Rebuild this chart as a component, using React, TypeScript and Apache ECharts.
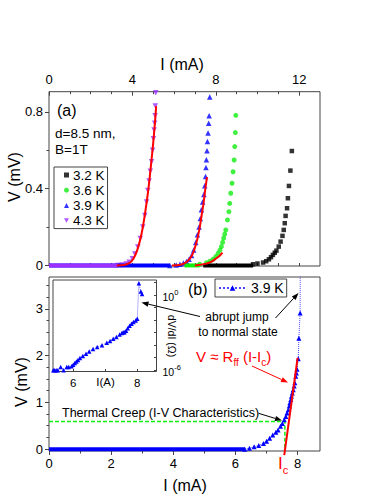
import React, { useEffect, useRef } from 'react';
import * as echarts from 'echarts';

const FONT = '"Liberation Sans", Arial, Helvetica, sans-serif';

// ---------- Panel (a): I (mA) vs V (mV), B = 1 T ----------
const I_32K = [9.79, 10.0, 10.27, 10.42, 10.55, 10.65, 10.74, 10.83, 10.91, 11.02, 11.11, 11.2, 11.26, 11.31, 11.35, 11.42, 11.46, 11.51, 11.58, 11.65];
const V_32K = [0.006, 0.01, 0.015, 0.022, 0.032, 0.043, 0.055, 0.066, 0.077, 0.098, 0.124, 0.154, 0.185, 0.22, 0.258, 0.298, 0.35, 0.414, 0.494, 0.596];
const FLAT_32K = [7.4, 9.79];

const I_36K = [7.23, 7.55, 7.72, 7.87, 8.0, 8.11, 8.2, 8.27, 8.33, 8.38, 8.43, 8.48, 8.56, 8.63, 8.67, 8.72, 8.78, 8.83, 8.88, 8.91, 8.94, 8.96];
const V_36K = [0.006, 0.014, 0.022, 0.032, 0.046, 0.063, 0.08, 0.098, 0.12, 0.142, 0.163, 0.185, 0.237, 0.28, 0.323, 0.376, 0.428, 0.488, 0.549, 0.619, 0.692, 0.782];
const FLAT_36K = [6.5, 7.23];

const I_39K = [5.8, 6.1, 6.28, 6.45, 6.6, 6.72, 6.84, 6.94, 7.04, 7.12, 7.2, 7.26, 7.31, 7.37, 7.43, 7.47, 7.51, 7.53, 7.55, 7.58, 7.6, 7.63, 7.66, 7.68, 7.71];
const V_39K = [0, 0.002, 0.006, 0.012, 0.02, 0.032, 0.052, 0.08, 0.12, 0.16, 0.2, 0.245, 0.29, 0.33, 0.37, 0.415, 0.463, 0.51, 0.55, 0.598, 0.645, 0.69, 0.74, 0.78, 0.877];
const FLAT_39K = [0, 5.8];

const I_43K = [3.3, 3.5, 3.7, 3.85, 4.0, 4.12, 4.26, 4.38, 4.5, 4.6, 4.68, 4.74, 4.8, 4.86, 4.92, 4.97, 5.01, 5.04, 5.07, 5.09, 5.1, 5.12];
const V_43K = [0, 0.002, 0.008, 0.016, 0.035, 0.06, 0.096, 0.14, 0.2, 0.26, 0.33, 0.39, 0.44, 0.49, 0.54, 0.6, 0.66, 0.705, 0.74, 0.78, 0.83, 0.9];
const FLAT_43K = [0, 3.3];

const FIT43_I = [3.25, 3.6, 3.85, 4.05, 4.25, 4.45, 4.62, 4.77, 4.9, 5.0, 5.08, 5.14];
const FIT43_V = [0, 0.002, 0.012, 0.035, 0.085, 0.17, 0.28, 0.4, 0.53, 0.64, 0.74, 0.83];
const FIT39_I = [5.9, 6.3, 6.6, 6.85, 7.05, 7.2, 7.32, 7.42, 7.5, 7.58];
const FIT39_V = [0, 0.004, 0.018, 0.05, 0.11, 0.18, 0.26, 0.33, 0.4, 0.46];
const FIT36_I = [7.0, 7.5, 7.8, 8.0, 8.2, 8.32];
const FIT36_V = [0, 0.008, 0.02, 0.035, 0.052, 0.067];

const TOP_X_LABELS = [0, 4, 8, 12];
const TOP_X_MINOR = [1, 2, 3, 5, 6, 7, 9, 10, 11];
const TOP_X_ALL = [0, 1, 2, 3, 4, 5, 6, 7, 8, 9, 10, 11, 12];
const TOP_Y_LABELS = [0, 0.4, 0.8];
const TOP_Y_MINOR = [0.2, 0.6];

// ---------- Panel (b): 3.9 K ----------
const B_I = [6.3, 6.45, 6.6, 6.75, 6.9, 7.0, 7.1, 7.2, 7.3, 7.37, 7.45, 7.51, 7.57, 7.62, 7.66, 7.7, 7.73, 7.75, 7.78, 7.8, 7.83, 7.86, 7.89, 7.91, 7.94, 7.96, 7.98, 8.02, 8.04, 8.08, 8.09];
const B_V = [0, 0.02, 0.05, 0.08, 0.12, 0.17, 0.23, 0.3, 0.36, 0.41, 0.49, 0.55, 0.63, 0.7, 0.77, 0.84, 0.92, 0.99, 1.06, 1.13, 1.2, 1.27, 1.35, 1.42, 1.56, 1.63, 1.71, 1.93, 2.37, 2.91, 5.0];
const B_FLAT = [0, 6.3];
const CREEP_I = [0, 7.59, 7.59];
const CREEP_V = [0.59, 0.59, 0];
const FF_I = [7.57, 8.0];
const FF_V = [-0.13, 1.95];

const BOT_X_LABELS = [0, 2, 4, 6, 8];
const BOT_X_MINOR = [1, 3, 5, 7];
const BOT_Y_LABELS = [0, 1, 2, 3];
const BOT_Y_MINOR = [0.25, 0.5, 0.75, 1.25, 1.5, 1.75, 2.25, 2.5, 2.75, 3.25, 3.5];

// ---------- Inset: dV/dI (Ω) vs I (A) ----------
const IN_I = [5.38, 5.42, 5.47, 5.52, 5.61, 5.7, 5.8, 5.86, 5.95, 6.0, 6.05, 6.1, 6.15, 6.21, 6.3, 6.4, 6.5, 6.62, 6.75, 6.9, 7.05, 7.15, 7.25, 7.35, 7.45, 7.52, 7.56, 7.6, 7.65, 7.7, 7.76, 7.82, 7.88, 7.95, 8.0, 8.05, 8.11, 8.15];
const IN_DVDI = [1.0e-6, 1.0e-6, 1.0e-6, 1.0e-6, 1.8e-6, 1.0e-6, 1.8e-6, 1.8e-6, 2.1e-6, 2.8e-6, 3.8e-6, 5.0e-6, 6.6e-6, 9.3e-6, 1.4e-5, 2.1e-5, 3.2e-5, 5.0e-5, 7.1e-5, 1.0e-4, 1.55e-4, 2.2e-4, 3.2e-4, 4.5e-4, 7.1e-4, 9.5e-4, 1.1e-3, 1.1e-3, 1.4e-3, 2.2e-3, 3.5e-3, 5.2e-3, 7.1e-3, 9.5e-3, 1.3e-2, 8.7, 1.9, 1.2];
const IN_X_LABELS = [6, 8];
const IN_X_TICKS = [6, 7, 8];
const IN_Y_LABEL_EXP = [0, -6];
const IN_Y_TICK_EXP = [-6, -5, -4, -3, -2, -1, 0, 1];

const zip = (xs: number[], ys: number[]) => xs.map((x, i) => [x, ys[i]]);
const flat = (r: number[]) => [[r[0], 0], [r[1], 0]];

const AX = '#444';
const PURPLE = '#9B30FF';
const GREEN = '#11EE11';
const BLUE = '#0000FF';
const RED = '#FF0000';

function arrow(x1: number, y1: number, x2: number, y2: number, color: string) {
  const dx = x2 - x1, dy = y2 - y1;
  const L = Math.hypot(dx, dy);
  const ux = dx / L, uy = dy / L;
  const head = 7, w = 2.6;
  const bx = x2 - ux * head, by = y2 - uy * head;
  return [
    { type: 'line', silent: true, shape: { x1, y1, x2: bx, y2: by }, style: { stroke: color, lineWidth: 1 } },
    { type: 'polygon', silent: true, shape: { points: [[x2, y2], [bx - uy * w, by + ux * w], [bx + uy * w, by - ux * w]] }, style: { fill: color } },
  ];
}

const label = (customValues: number[], extra: any = {}) => ({
  customValues, fontSize: 13, color: '#000', fontFamily: FONT, formatter: (v: number) => String(v), ...extra,
});
const tick = (customValues: number[], inside: boolean, length: number) => ({
  show: true, customValues, inside, length, lineStyle: { color: AX, width: 1 },
});
const noLine = { show: false, onZero: false };
const noSplit = { show: false };

export default function App() {
  const ref = useRef<HTMLDivElement>(null);
  useEffect(() => {
    if (!ref.current) return;
    const chart = echarts.init(ref.current, undefined, { renderer: 'svg' });

    const gA = { left: 49, top: 91.7, width: 271, height: 174.3 };
    const gB = { left: 49, top: 277, width: 271, height: 174 };
    const gI = { left: 53, top: 280, width: 103.5, height: 91.5 };

    const option: any = {
      animation: false,
      backgroundColor: '#fff',
      textStyle: { fontFamily: FONT },
      grid: [
        { ...gA, show: true, borderColor: AX, borderWidth: 1, outerBoundsMode: 'none' },
        { ...gB, show: true, borderColor: AX, borderWidth: 1, outerBoundsMode: 'none' },
        { ...gI, show: true, borderColor: AX, borderWidth: 1, backgroundColor: '#fff', outerBoundsMode: 'none' },
        { ...gA, show: false, outerBoundsMode: 'none' },
        { ...gB, show: false, outerBoundsMode: 'none' },
      ],
      xAxis: [
        { type: 'value', gridIndex: 0, position: 'top', min: 0, max: 13, axisLine: noLine, splitLine: noSplit,
          axisTick: tick(TOP_X_LABELS, true, 4), axisLabel: label(TOP_X_LABELS, { margin: 6 }) },
        { type: 'value', gridIndex: 3, position: 'top', min: 0, max: 13, axisLine: noLine, splitLine: noSplit,
          axisTick: tick(TOP_X_MINOR, true, 2.5), axisLabel: { show: false } },
        { type: 'value', gridIndex: 3, position: 'bottom', min: 0, max: 13, axisLine: noLine, splitLine: noSplit,
          axisTick: tick(TOP_X_ALL, true, 3), axisLabel: { show: false } },
        { type: 'value', gridIndex: 1, position: 'bottom', min: 0, max: 8.72, axisLine: noLine, splitLine: noSplit,
          axisTick: tick(BOT_X_LABELS, false, 4), axisLabel: label(BOT_X_LABELS, { margin: 6 }) },
        { type: 'value', gridIndex: 4, position: 'bottom', min: 0, max: 8.72, axisLine: noLine, splitLine: noSplit,
          axisTick: tick(BOT_X_MINOR, false, 2.5), axisLabel: { show: false } },
        { type: 'value', gridIndex: 2, position: 'bottom', min: 5.37, max: 8.6, axisLine: noLine, splitLine: noSplit,
          axisTick: tick(IN_X_TICKS, true, 2.5), axisLabel: label(IN_X_LABELS, { fontSize: 11.5, margin: 5 }) },
      ],
      yAxis: [
        { type: 'value', gridIndex: 0, position: 'left', min: -0.003, max: 0.905, axisLine: noLine, splitLine: noSplit,
          axisTick: tick(TOP_Y_LABELS, false, 4), axisLabel: label(TOP_Y_LABELS, { margin: 6 }) },
        { type: 'value', gridIndex: 3, position: 'left', min: -0.003, max: 0.905, axisLine: noLine, splitLine: noSplit,
          axisTick: tick(TOP_Y_MINOR, false, 2.5), axisLabel: { show: false } },
        { type: 'value', gridIndex: 1, position: 'left', min: -0.04, max: 3.68, axisLine: noLine, splitLine: noSplit,
          axisTick: tick(BOT_Y_LABELS, false, 4), axisLabel: label(BOT_Y_LABELS, { margin: 6 }) },
        { type: 'value', gridIndex: 4, position: 'left', min: -0.04, max: 3.68, axisLine: noLine, splitLine: noSplit,
          axisTick: tick(BOT_Y_MINOR, false, 2.5), axisLabel: { show: false } },
        { type: 'value', gridIndex: 2, position: 'right', min: -6.1, max: 1.2, axisLine: noLine, splitLine: noSplit,
          axisTick: tick(IN_Y_TICK_EXP, true, 2.5),
          axisLabel: {
            customValues: IN_Y_LABEL_EXP, margin: 6, color: '#000', fontFamily: FONT,
            formatter: (v: number) => `{b|10}{s|${v}}`,
            rich: {
              b: { fontSize: 10.5, lineHeight: 14, verticalAlign: 'bottom', fontFamily: FONT, color: '#000' },
              s: { fontSize: 7.5, lineHeight: 8, verticalAlign: 'top', fontFamily: FONT, color: '#000' },
            },
          } },
      ],
      legend: [
        { show: true, orient: 'vertical', left: 54, top: 167, selectedMode: false,
          data: [
            { name: '3.2 K' },
            { name: '3.6 K' },
            { name: '3.9 K' },
            { name: '4.3 K', icon: 'path://M0,0 L10,0 L5,9 Z' },
          ],
          itemWidth: 5, itemHeight: 5, itemGap: 1.2, padding: [1, 3, 1, 10],
          borderColor: AX, borderWidth: 1,
          textStyle: { fontSize: 13.5, lineHeight: 13, fontFamily: FONT, color: '#000', padding: [0, 0, 0, -1] } },
        { show: true, orient: 'horizontal', left: 215, top: 279, selectedMode: false,
          data: ['3.9 K (b)'], formatter: () => '3.9 K',
          itemWidth: 27, itemHeight: 7, padding: [2, 3, 2, 3],
          borderColor: AX, borderWidth: 1,
          textStyle: { fontSize: 14, fontFamily: FONT, color: '#000' } },
      ],
      series: [
        // flat V=0 bands (dense markers)
        { type: 'line', name: 'flat32', xAxisIndex: 0, yAxisIndex: 0, data: flat(FLAT_32K), symbol: 'none', clip: false, silent: true, lineStyle: { color: '#000', width: 4 } },
        { type: 'line', name: 'flat36', xAxisIndex: 0, yAxisIndex: 0, data: flat(FLAT_36K), symbol: 'none', clip: false, silent: true, lineStyle: { color: GREEN, width: 4 } },
        { type: 'line', name: 'flat39', xAxisIndex: 0, yAxisIndex: 0, data: flat(FLAT_39K), symbol: 'none', clip: false, silent: true, lineStyle: { color: BLUE, width: 4 } },
        { type: 'line', name: 'flat43', xAxisIndex: 0, yAxisIndex: 0, data: flat(FLAT_43K), symbol: 'none', clip: false, silent: true, lineStyle: { color: PURPLE, width: 4 } },
        // data markers
        { type: 'scatter', name: '3.2 K', xAxisIndex: 0, yAxisIndex: 0, data: zip(I_32K, V_32K), symbol: 'rect', symbolSize: 4.5, clip: false, itemStyle: { color: '#000' } },
        { type: 'scatter', name: '3.6 K', xAxisIndex: 0, yAxisIndex: 0, data: zip(I_36K, V_36K), symbol: 'circle', symbolSize: 5, clip: false, itemStyle: { color: GREEN } },
        { type: 'scatter', name: '3.9 K', xAxisIndex: 0, yAxisIndex: 0, data: zip(I_39K, V_39K), symbol: 'triangle', symbolSize: 5.5, clip: false, itemStyle: { color: BLUE } },
        { type: 'scatter', name: '4.3 K', xAxisIndex: 0, yAxisIndex: 0, data: zip(I_43K, V_43K), symbol: 'triangle', symbolRotate: 180, symbolSize: 5.5, clip: false, itemStyle: { color: PURPLE } },
        // red fits
        { type: 'line', name: 'fit43', xAxisIndex: 0, yAxisIndex: 0, data: zip(FIT43_I, FIT43_V), smooth: 0.3, symbol: 'none', clip: false, silent: true, z: 5, lineStyle: { color: RED, width: 2 } },
        { type: 'line', name: 'fit39', xAxisIndex: 0, yAxisIndex: 0, data: zip(FIT39_I, FIT39_V), smooth: 0.3, symbol: 'none', clip: false, silent: true, z: 5, lineStyle: { color: RED, width: 2 } },
        { type: 'line', name: 'fit36', xAxisIndex: 0, yAxisIndex: 0, data: zip(FIT36_I, FIT36_V), smooth: 0.3, symbol: 'none', clip: false, silent: true, z: 5, lineStyle: { color: RED, width: 2 } },

        // panel (b)
        { type: 'line', name: 'creep', xAxisIndex: 3, yAxisIndex: 2, data: zip(CREEP_I, CREEP_V), symbol: 'none', silent: true, lineStyle: { color: GREEN, width: 1.5, type: [4, 2] } },
        { type: 'line', name: 'bflat', xAxisIndex: 3, yAxisIndex: 2, data: flat(B_FLAT), symbol: 'none', clip: false, silent: true, lineStyle: { color: BLUE, width: 4 } },
        { type: 'line', name: '3.9 K (b)', xAxisIndex: 3, yAxisIndex: 2, data: zip(B_I, B_V), symbol: 'triangle', symbolSize: 5, showSymbol: true,
          itemStyle: { color: BLUE }, lineStyle: { color: '#4a4aff', width: 1, type: 'dotted' } },
        { type: 'line', name: 'ff', xAxisIndex: 3, yAxisIndex: 2, data: zip(FF_I, FF_V), symbol: 'none', clip: false, silent: true, z: 5, lineStyle: { color: RED, width: 2 } },

        // inset
        { type: 'line', name: 'inset', xAxisIndex: 5, yAxisIndex: 4, data: IN_I.map((x, i) => [x, Math.log10(IN_DVDI[i])]),
          symbol: 'triangle', symbolSize: 4.5, z: 6, itemStyle: { color: BLUE }, lineStyle: { color: '#6a6aff', width: 1, type: 'dotted' } },
      ],
      graphic: [
        { type: 'text', x: 182, y: 64, silent: true, style: { text: 'I (mA)', fontSize: 16, fontFamily: FONT, fill: '#000', align: 'center', verticalAlign: 'middle' } },
        { type: 'text', x: 185, y: 485, silent: true, style: { text: 'I (mA)', fontSize: 16, fontFamily: FONT, fill: '#000', align: 'center', verticalAlign: 'middle' } },
        { type: 'text', x: 14, y: 177, rotation: Math.PI / 2, silent: true, style: { text: 'V (mV)', fontSize: 16, fontFamily: FONT, fill: '#000', align: 'center', verticalAlign: 'middle' } },
        { type: 'text', x: 21, y: 382, rotation: Math.PI / 2, silent: true, style: { text: 'V (mV)', fontSize: 16, fontFamily: FONT, fill: '#000', align: 'center', verticalAlign: 'middle' } },
        { type: 'text', x: 57, y: 110, silent: true, style: { text: '(a)', fontSize: 16, fontFamily: FONT, fill: '#000', align: 'left', verticalAlign: 'middle' } },
        { type: 'text', x: 55, y: 133, silent: true, style: { text: 'd=8.5 nm,', fontSize: 13.5, fontFamily: FONT, fill: '#000', align: 'left', verticalAlign: 'middle' } },
        { type: 'text', x: 55, y: 149, silent: true, style: { text: 'B=1T', fontSize: 13.5, fontFamily: FONT, fill: '#000', align: 'left', verticalAlign: 'middle' } },
        { type: 'text', x: 188, y: 289, silent: true, style: { text: '(b)', fontSize: 16, fontFamily: FONT, fill: '#000', align: 'left', verticalAlign: 'middle' } },
        { type: 'text', x: 237, y: 317, silent: true, style: { text: 'abrupt jump', fontSize: 12, fontFamily: FONT, fill: '#000', align: 'center', verticalAlign: 'middle' } },
        { type: 'text', x: 238, y: 332, silent: true, style: { text: 'to normal state', fontSize: 12, fontFamily: FONT, fill: '#000', align: 'center', verticalAlign: 'middle' } },
        ...arrow(200, 316.5, 141.5, 302.5, '#000'),
        ...arrow(275.5, 318, 298.5, 293, '#000'),
        { type: 'text', x: 196, y: 358, silent: true, style: {
          text: '{m|V ≈ R}{s|ff}{m| (I-I}{s|c}{m|)}', align: 'left', verticalAlign: 'middle',
          rich: {
            m: { fontSize: 15, lineHeight: 18, verticalAlign: 'top', fontFamily: FONT, fill: RED },
            s: { fontSize: 10, lineHeight: 10, verticalAlign: 'bottom', fontFamily: FONT, fill: RED },
          } } },
        ...arrow(252, 366, 288, 382.5, RED),
        { type: 'text', x: 62, y: 413.3, silent: true, style: { text: 'Thermal Creep (I-V Characteristics)', fontSize: 12.5, fontFamily: FONT, fill: '#000', align: 'left', verticalAlign: 'middle' } },
        ...arrow(258.5, 413.3, 282, 420.5, '#000'),
        { type: 'text', x: 278, y: 465, silent: true, style: {
          text: '{m|I}{s|c}', align: 'left', verticalAlign: 'middle',
          rich: {
            m: { fontSize: 17, lineHeight: 20, verticalAlign: 'top', fontFamily: FONT, fill: RED },
            s: { fontSize: 11, lineHeight: 11, verticalAlign: 'bottom', fontFamily: FONT, fill: RED },
          } } },
        { type: 'text', x: 105.5, y: 382, silent: true, style: { text: 'I(A)', fontSize: 11.5, fontFamily: FONT, fill: '#000', align: 'center', verticalAlign: 'middle' } },
        { type: 'text', x: 172, y: 336, rotation: -Math.PI / 2, silent: true, style: { text: 'dV/dI (Ω)', fontSize: 10.5, fontFamily: FONT, fill: '#000', align: 'center', verticalAlign: 'middle' } },
      ],
    };

    chart.setOption(option);
    return () => chart.dispose();
  }, []);

  return <div ref={ref} style={{ position: 'fixed', left: 0, top: 0, width: 382, height: 494, background: '#fff' }} />;
}
